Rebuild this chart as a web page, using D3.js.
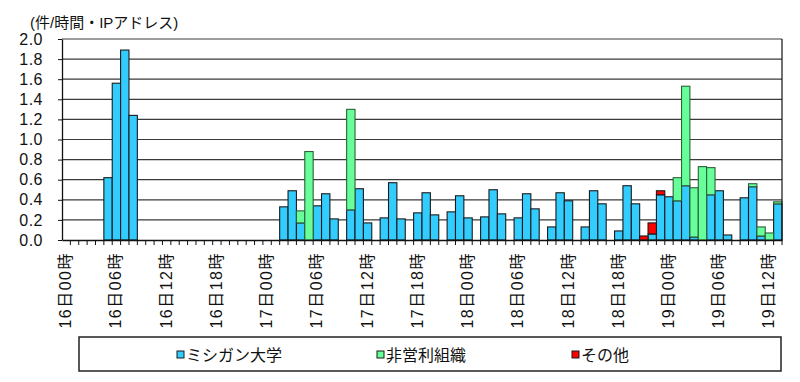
<!DOCTYPE html>
<html>
<head>
<meta charset="utf-8">
<script src="https://cdn.jsdelivr.net/npm/d3@7"></script>
<style>
  body { margin: 0; background: #fff; }
  svg text { font-family: "Liberation Sans", Arial, "Noto Sans CJK JP", sans-serif; fill: #111; }
</style>
</head>
<body>
<script>
// Size of the drawing area
const w = 800;
const h = 382;

// Plot area edges
const plotLeft = 62;
const plotRight = 782;
const plotTop = 39;
const plotBottom = 240;

// Days and hours that make up the categories (16日00時 .. 19日13時)
const days = ["16", "17", "18", "19"];
const hoursPerDay = 24;
const lastDayHours = 14;

// Tick labels shown on the x axis (every 6 hours)
const tickLabels = ["16日00時", "16日06時", "16日12時", "16日18時",
  "17日00時", "17日06時", "17日12時", "17日18時",
  "18日00時", "18日06時", "18日12時", "18日18時",
  "19日00時", "19日06時", "19日12時"];

// Y axis ticks
const yTicks = [0, 0.2, 0.4, 0.6, 0.8, 1.0, 1.2, 1.4, 1.6, 1.8, 2.0];

// Series names
const seriesNames = ["ミシガン大学", "非営利組織", "その他"];
const seriesColors = ["#33ccff", "#66ff99", "#ff0000"];

// ミシガン大学 (12 hours per line)
const michigan = [
  0, 0, 0, 0, 0, 0.62, 1.56, 1.89, 1.24, 0, 0, 0,
  0, 0, 0, 0, 0, 0, 0, 0, 0, 0, 0, 0,
  0, 0, 0.33, 0.49, 0.17, 0, 0.34, 0.46, 0.21, 0, 0.30, 0.51,
  0.17, 0, 0.22, 0.57, 0.21, 0, 0.27, 0.47, 0.25, 0, 0.28, 0.44,
  0.22, 0, 0.23, 0.50, 0.26, 0, 0.22, 0.46, 0.31, 0, 0.13, 0.47,
  0.39, 0, 0.13, 0.49, 0.36, 0, 0.09, 0.54, 0.36, 0, 0.06, 0.45,
  0.43, 0.39, 0.54, 0.03, 0, 0.45, 0.49, 0.05, 0, 0.42, 0.53, 0.04,
  0, 0.36
];

// 非営利組織
const nonprofit = [
  0, 0, 0, 0, 0, 0, 0, 0, 0, 0, 0, 0,
  0, 0, 0, 0, 0, 0, 0, 0, 0, 0, 0, 0,
  0, 0, 0, 0, 0.12, 0.88, 0, 0, 0, 0, 1.00, 0,
  0, 0, 0, 0, 0, 0, 0, 0, 0, 0, 0, 0,
  0, 0, 0, 0, 0, 0, 0, 0, 0, 0, 0, 0,
  0, 0, 0, 0, 0, 0, 0, 0, 0, 0, 0, 0,
  0, 0.23, 0.99, 0.49, 0.73, 0.27, 0, 0, 0, 0, 0.03, 0.09,
  0.07, 0.02
];

// その他
const others = [
  0, 0, 0, 0, 0, 0, 0, 0, 0, 0, 0, 0,
  0, 0, 0, 0, 0, 0, 0, 0, 0, 0, 0, 0,
  0, 0, 0, 0, 0, 0, 0, 0, 0, 0, 0, 0,
  0, 0, 0, 0, 0, 0, 0, 0, 0, 0, 0, 0,
  0, 0, 0, 0, 0, 0, 0, 0, 0, 0, 0, 0,
  0, 0, 0, 0, 0, 0, 0, 0, 0, 0.04, 0.11, 0.04,
  0, 0, 0, 0, 0, 0, 0, 0, 0, 0, 0, 0,
  0, 0
];

// Build category keys like "16日05時"
let categories = [];
days.forEach((d, di) => {
  const n = di === days.length - 1 ? lastDayHours : hoursPerDay;
  for (let hr = 0; hr < n; hr++) {
    categories.push(d + "日" + String(hr).padStart(2, "0") + "時");
  }
});

// Table for the stack layout
const table = categories.map((c, i) => ({
  cat: c,
  "ミシガン大学": michigan[i],
  "非営利組織": nonprofit[i],
  "その他": others[i]
}));

const svg = d3.select("body").append("svg").attr("width", w).attr("height", h);

const xScale = d3.scaleBand().domain(categories).range([plotLeft, plotRight]).padding(0);
const yScale = d3.scaleLinear().domain([0, 2]).range([plotBottom, plotTop]);

// Gridlines
svg.append("g")
  .selectAll("line")
  .data(yTicks.filter(t => t > 0))
  .enter()
  .append("line")
  .attr("x1", plotLeft).attr("x2", plotRight)
  .attr("y1", d => yScale(d)).attr("y2", d => yScale(d))
  .attr("stroke", "#3a3a3a")
  .attr("stroke-width", 1.2);

// Stacked bars
const stacked = d3.stack().keys(seriesNames)(table);

svg.append("g")
  .selectAll("g")
  .data(stacked)
  .enter()
  .append("g")
  .attr("fill", (d, i) => seriesColors[i])
  .attr("stroke", (d, i) => i === 1 ? "#2f5f3a" : "#1a1a1a")
  .selectAll("rect")
  .data(d => d.filter(p => p[1] - p[0] > 0))
  .enter()
  .append("rect")
  .attr("x", d => xScale(d.data.cat))
  .attr("y", d => yScale(d[1]))
  .attr("width", xScale.bandwidth())
  .attr("height", d => yScale(d[0]) - yScale(d[1]))
  .attr("stroke-width", 1.1);

// Right frame
svg.append("line")
  .attr("x1", plotRight).attr("x2", plotRight)
  .attr("y1", plotTop).attr("y2", plotBottom)
  .attr("stroke", "#111").attr("stroke-width", 1.2);

// Y axis
const yAxis = d3.axisLeft(yScale)
  .tickValues(yTicks)
  .tickFormat(d3.format(".1f"))
  .tickSize(4)
  .tickSizeOuter(0);

const yG = svg.append("g")
  .attr("transform", "translate(" + plotLeft + ",0)")
  .call(yAxis);
yG.select(".domain").attr("stroke", "#111").attr("stroke-width", 1.3);
yG.selectAll(".tick line").attr("stroke", "#111");
yG.selectAll("text")
  .attr("x", -19)
  .style("font-size", "16px")
  .style("letter-spacing", "0.5px")
  .attr("fill", "#111");

// X axis: tick marks at category boundaries
const xAxis = d3.axisBottom(xScale).tickSize(0).tickFormat("");
const xG = svg.append("g")
  .attr("transform", "translate(0," + plotBottom + ")")
  .call(xAxis);
xG.select(".domain").attr("stroke", "#111").attr("stroke-width", 1.3);

xG.selectAll(".boundary")
  .data(categories)
  .enter()
  .append("line")
  .attr("class", "boundary")
  .attr("x1", d => xScale(d) + xScale.bandwidth())
  .attr("x2", d => xScale(d) + xScale.bandwidth())
  .attr("y1", 0).attr("y2", 5)
  .attr("stroke", "#111");

// Rotated x labels
svg.append("g")
  .selectAll("text")
  .data(tickLabels)
  .enter()
  .append("text")
  .attr("transform", d => "translate(" + (xScale(d) + xScale.bandwidth() / 2 + 5) + "," + 252 + ")rotate(-90)")
  .attr("text-anchor", "end")
  .style("font-size", "16px")
  .style("letter-spacing", "1.5px")
  .text(d => d);

// Unit label
svg.append("text")
  .attr("x", 30)
  .attr("y", 28)
  .style("font-size", "15px")
  .text("(件/時間・IPアドレス)");

// Legend
svg.append("rect")
  .attr("x", 79).attr("y", 337)
  .attr("width", 702).attr("height", 34)
  .attr("fill", "none")
  .attr("stroke", "#222")
  .attr("stroke-width", 1.5);

const legendX = [177, 377, 572];
const legend = svg.append("g")
  .selectAll("g")
  .data(seriesNames)
  .enter()
  .append("g")
  .attr("transform", (d, i) => "translate(" + legendX[i] + ",355)");

legend.append("rect")
  .attr("x", 0).attr("y", -4)
  .attr("width", 7).attr("height", 7)
  .attr("fill", (d, i) => seriesColors[i])
  .attr("stroke", "#1a1a1a");

legend.append("text")
  .attr("x", 9)
  .attr("dy", "0.36em")
  .style("font-size", "16px")
  .text(d => d);
</script>
</body>
</html>
